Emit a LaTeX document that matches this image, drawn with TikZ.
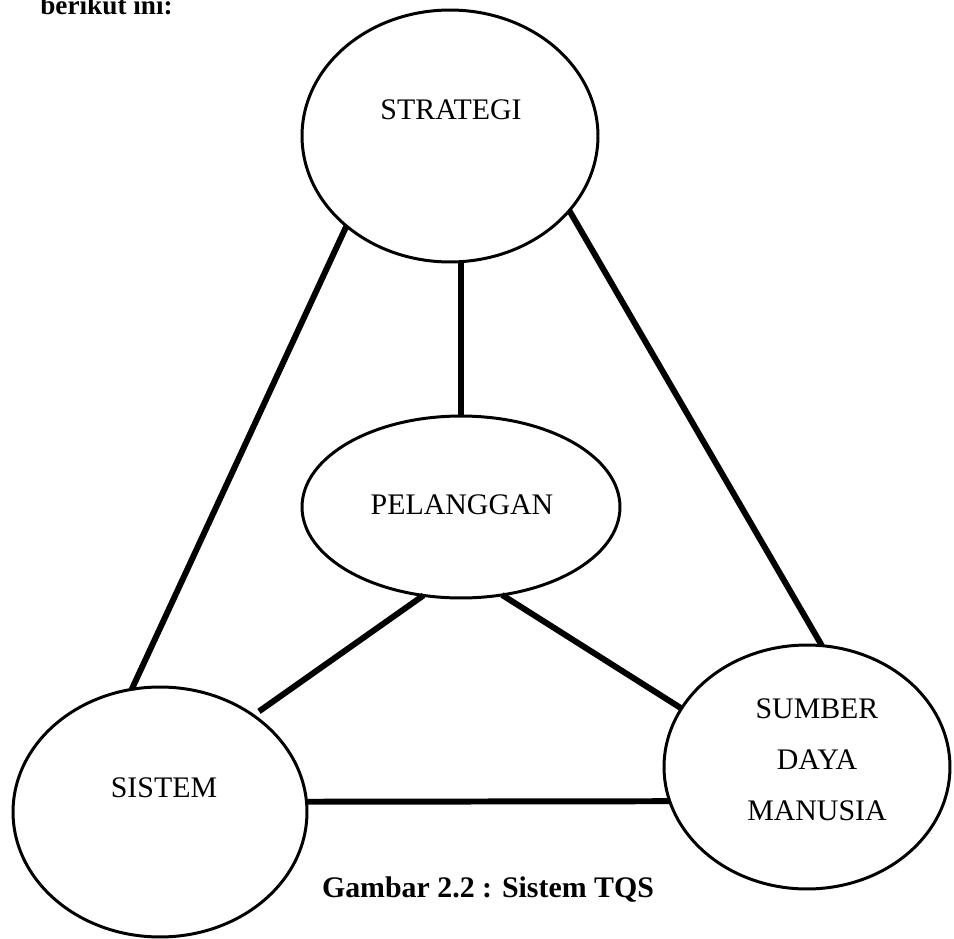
\documentclass[tikz,border=0pt]{standalone}
\usepackage{fontspec}
\setmainfont{Liberation Serif}
\usetikzlibrary{shapes.geometric}
\begin{document}
\begin{tikzpicture}[x={(0.02cm,0)},y={(0,-0.02cm)},
  oval/.style={draw,ellipse,line width=1.7pt,inner sep=0pt,outer sep=0pt},
  lbl/.style={font=\fontsize{17}{29}\selectfont,inner sep=0pt,align=center},
  link/.style={line width=3.4pt}]
\useasboundingbox (0,0) rectangle (954,939);
\node[anchor=base west,inner sep=0pt,font=\fontsize{15.5}{18}\selectfont\bfseries] (intro) at (40,15) {berikut ini:};
\node[oval,minimum width=5.92cm,minimum height=5.04cm] (strategi) at (450,136) {};
\node[oval,minimum width=6.36cm,minimum height=3.64cm] (pelanggan) at (461,507) {};
\node[oval,minimum width=5.88cm,minimum height=5.0cm] (sistem) at (160,812) {};
\node[oval,minimum width=5.72cm,minimum height=4.88cm] (sdm) at (807,767) {};
\node[lbl] (tstrategi) at (451,110) {STRATEGI};
\node[lbl] (tpelanggan) at (462,505) {PELANGGAN};
\node[lbl] (tsistem) at (164,788) {SISTEM};
\node[lbl] (tsdm) at (817,760) {SUMBER\\DAYA\\MANUSIA};
\node[lbl,font=\fontsize{17}{20}\selectfont\bfseries] (caption) at (488,890) {Gambar 2.2 : Sistem TQS};
\draw[link] (strategi.221) -- (sistem.103);
\draw[link] (strategi.328) -- (sdm.83);
\draw[link] (pelanggan.north |- strategi.south) -- (pelanggan.north);
\draw[link,shorten >=4pt] (pelanggan.247) -- (sistem.46);
\draw[link] (pelanggan.295) -- (sdm.155);
\draw[link] (sistem.4) -- (sdm.194);
\end{tikzpicture}
\end{document}
